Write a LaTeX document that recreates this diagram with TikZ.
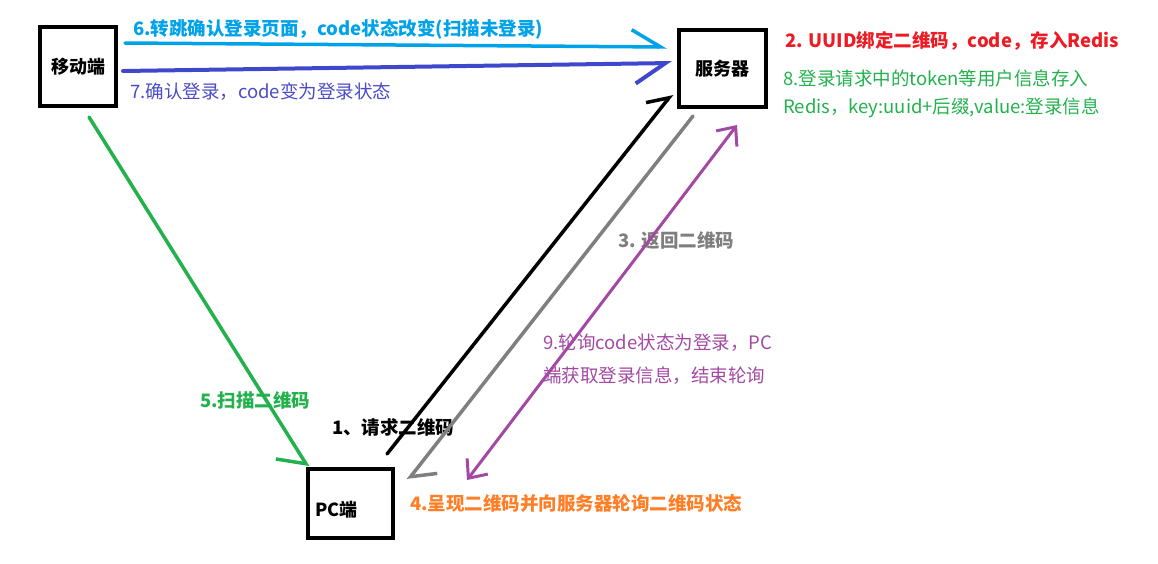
\documentclass[tikz,border=0pt]{standalone}
\usepackage{fontspec}
\setmainfont{Noto Sans CJK SC}
\usetikzlibrary{arrows.meta}
\definecolor{pcyan}{HTML}{00A2E8}
\definecolor{pindigo}{HTML}{3F48CC}
\definecolor{ptext}{HTML}{4B4BC8}
\definecolor{pred}{HTML}{ED1C24}
\definecolor{pgreen}{HTML}{22B14C}
\definecolor{pgray}{HTML}{7F7F7F}
\definecolor{ppurple}{HTML}{A349A4}
\definecolor{porange}{HTML}{FF7F27}
\tikzset{
  x=1pt, y=-1pt,
  boxnode/.style={draw=black, line width=4pt, fill=white, inner sep=0pt, font=\fontsize{18}{22}\selectfont\bfseries},
  lbl/.style={anchor=west, inner sep=0pt, font=\fontsize{18.5}{22}\selectfont},
  blbl/.style={lbl, font=\fontsize{18.5}{22}\selectfont\bfseries},
  conn/.style={line width=3.5pt, line cap=round, line join=round},
}
\begin{document}
\begin{tikzpicture}
\useasboundingbox (0,0) rectangle (1158,563);
% boxes
\node[boxnode, minimum width=76pt, minimum height=79pt] (mobile) at (78,66.5) {移动端};
\node[boxnode, minimum width=87pt, minimum height=77pt] (server) at (722.5,68.5) {服务器};
\node[boxnode, line width=3.5pt, minimum width=85pt, minimum height=69pt] (pc) at (350.5,503.5) {};
\node[anchor=west, inner sep=0pt, font=\fontsize{18}{22}\selectfont\bfseries] (pclabel) at (315,510) {PC端};
% labels
\node[blbl, pcyan] (t6) at (133,29) {6.转跳确认登录页面，code状态改变(扫描未登录)};
\node[lbl, ptext] (t7) at (130,91.5) {7.确认登录，code变为登录状态};
\node[blbl, pred] (t2) at (785,41) {2. UUID绑定二维码，code，存入Redis};
\node[lbl, pgreen] (t8a) at (783,78) {8.登录请求中的token等用户信息存入};
\node[lbl, pgreen] (t8b) at (783,108) {Redis，key:uuid+后缀,value:登录信息};
\node[blbl, pgreen] (t5) at (200,400) {5.扫描二维码};
\node[blbl, black] (t1) at (332,427) {1、请求二维码};
\node[blbl, pgray] (t3) at (618,240) {3. 返回二维码};
\node[lbl, ppurple] (t9a) at (543,343) {9.轮询code状态为登录，PC};
\node[lbl, ppurple] (t9b) at (543,376) {端获取登录信息，结束轮询};
\node[blbl, porange] (t4) at (410,503) {4.呈现二维码并向服务器轮询二维码状态};
% connector end points
\coordinate (c6s) at (125,43);  \coordinate (c6e) at (667,47);
\coordinate (c7s) at (123,71);  \coordinate (c7e) at (672,63);
\coordinate (c1s) at (387,454); \coordinate (c1e) at (672,94);
\coordinate (c3s) at (693,116); \coordinate (c3e) at (408,480);
\coordinate (c9s) at (737,125); \coordinate (c9e) at (467,480);
\coordinate (c5s) at (89,117);  \coordinate (c5e) at (308,467);
% connectors
\draw[conn, pcyan, -{Straight Barb[harpoon, length=29pt, width=34pt]}] (c6s) -- (c6e);
\draw[conn, pindigo, line width=4pt, -{Straight Barb[harpoon, swap, length=30pt, width=40pt]}] (c7s) -- (c7e);
\draw[conn, black, -{Straight Barb[harpoon, length=18pt, width=30pt]}] (c1s) -- (c1e);
\draw[conn, pgray, -{Straight Barb[harpoon, length=19pt, width=38pt]}] (c3s) -- (c3e);
\draw[conn, ppurple, line width=3pt, {Straight Barb[length=15pt, width=26pt]}-{Straight Barb[length=15pt, width=26pt]}] (c9s) -- (c9e);
\draw[conn, pgreen, -{Straight Barb[harpoon, swap, length=20pt, width=46pt]}] (c5s) -- (c5e);
\end{tikzpicture}
\end{document}
